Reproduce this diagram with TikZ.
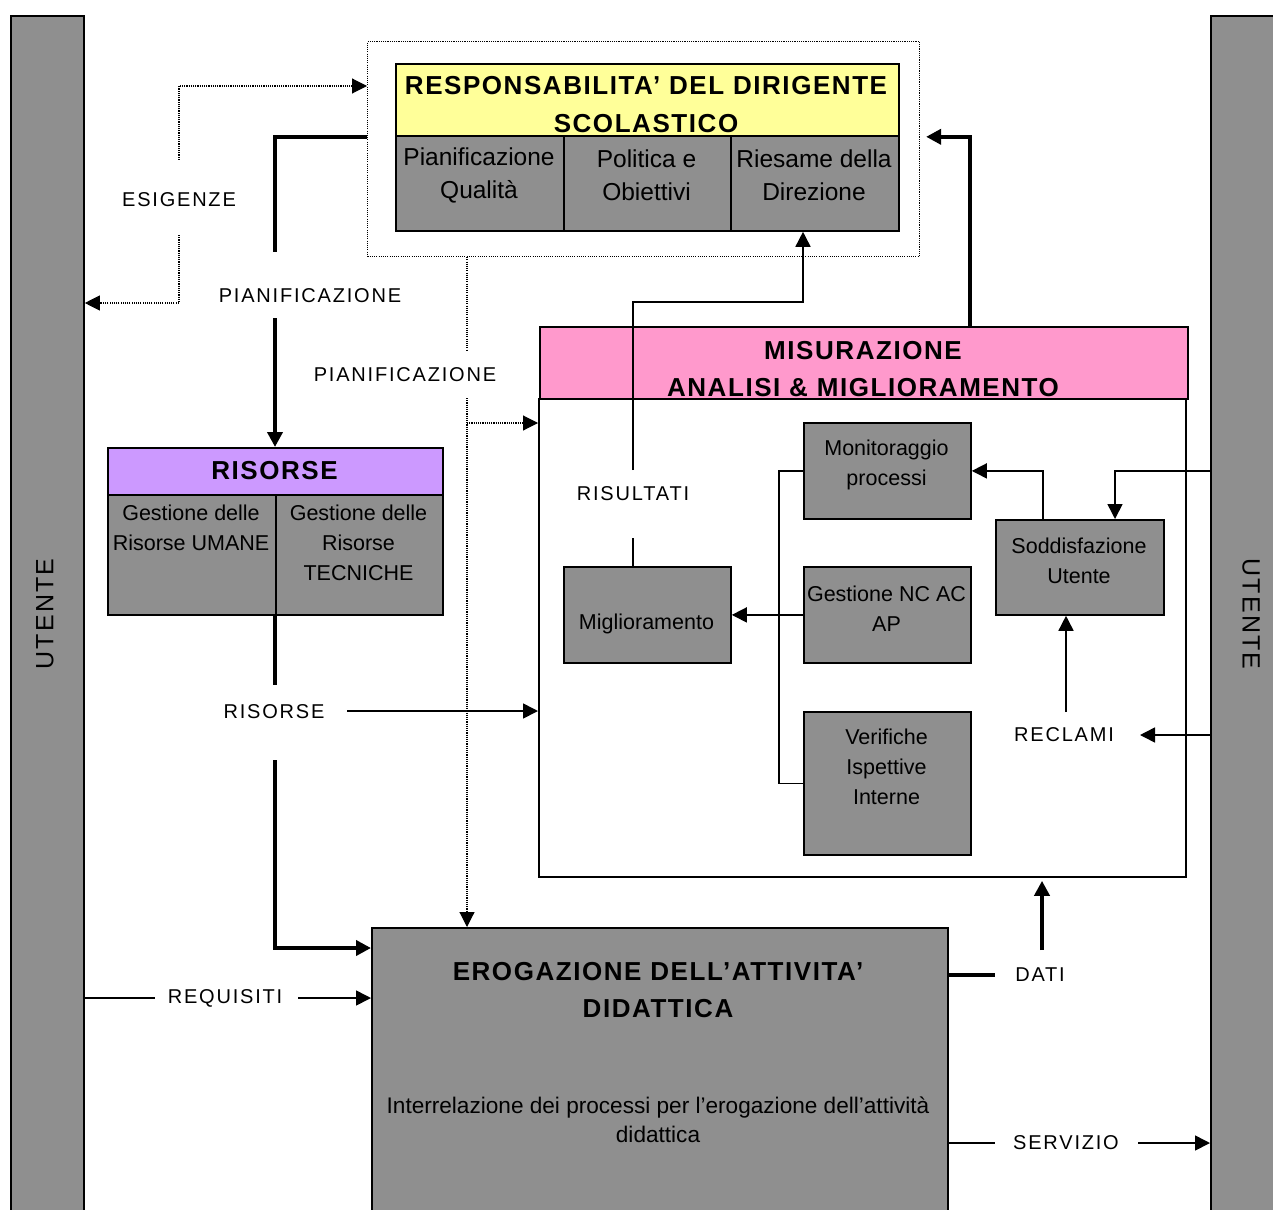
\documentclass[tikz,border=0pt]{standalone}
\usepackage{fontspec}
\setmainfont{Liberation Sans}
\newfontfamily\labfont{Liberation Sans}[LetterSpace=9]
\newfontfamily\hdfont{Liberation Sans}[LetterSpace=6]
\usetikzlibrary{arrows.meta}
\definecolor{bgray}{HTML}{8F8F8F}
\definecolor{hyel}{HTML}{FFFF99}
\definecolor{hpink}{HTML}{FF99CC}
\definecolor{hpurp}{HTML}{CC99FF}
\begin{document}
\begin{tikzpicture}[x=1pt,y=-1pt,
  bx/.style={draw=black,line width=1.8pt,inner sep=0pt,anchor=north west},
  gbx/.style={bx,fill=bgray},
  arr/.style={-{Triangle[length=15pt,width=15pt]}},
  tln/.style={line width=1.6pt},
  thk/.style={line width=4.5pt},
  dotl/.style={line width=1.1pt,dash pattern=on 1.1pt off 1.1pt},
  lbl/.style={font=\labfont\fontsize{20pt}{24pt}\selectfont,inner sep=0pt},
  hd/.style={font=\hdfont\bfseries\fontsize{26pt}{37pt}\selectfont,align=center,inner sep=0pt},
  bt/.style={font=\fontsize{21.5pt}{30pt}\selectfont,align=center,inner sep=0pt},
  tt/.style={font=\fontsize{24.5pt}{33pt}\selectfont,align=center,inner sep=0pt},
  ut/.style={font=\labfont\fontsize{25pt}{30pt}\selectfont,inner sep=0pt}
]
\useasboundingbox (0,0) rectangle (1273,1209);
\clip (0,0) rectangle (1273,1209);

% helper levels
\coordinate (y86) at (0,86);
\coordinate (y303) at (0,303);
\coordinate (y423) at (0,423);
\coordinate (y735) at (0,735);
\coordinate (y948) at (0,948);
\coordinate (y975) at (0,975);
\coordinate (y998) at (0,998);
\coordinate (y1143) at (0,1143);

% user bars
\node[gbx,minimum width=73pt,minimum height=1260pt] (utL) at (10,15) {};
\node[gbx,minimum width=90pt,minimum height=1260pt] (utR) at (1210,15) {};
\node[ut,rotate=90] (utLt) at (45,614) {UTENTE};
\node[ut,rotate=-90] (utRt) at (1251,614) {UTENTE};

% top block
\node[draw,dotl,inner sep=0pt,anchor=north west,minimum width=552pt,minimum height=215pt] (dbox) at (367,41) {};
\node[bx,fill=hyel,minimum width=503pt,minimum height=72pt] (hdr) at (395,63) {};
\node[hd] (hdrt1) at (646,86) {RESPONSABILITA’ DEL DIRIGENTE};
\node[hd] (hdrt2) at (646,124) {SCOLASTICO};
\node[gbx,minimum width=168pt,minimum height=95pt] (pq) at (395,135) {};
\node[gbx,minimum width=167pt,minimum height=95pt] (po) at (563,135) {};
\node[gbx,minimum width=168pt,minimum height=95pt] (pr) at (730,135) {};
\node[tt] (pqt) at (479,175) {Pianificazione\\Qualità};
\node[tt] (pot) at (646.5,175) {Politica e\\Obiettivi};
\node[tt] (prt) at (814,175) {Riesame della\\Direzione};

% risorse block
\node[bx,fill=hpurp,minimum width=335pt,minimum height=47pt] (rh) at (107,447) {};
\node[hd] (rht) at (274.5,471) {RISORSE};
\node[gbx,minimum width=168pt,minimum height=120pt] (rcl) at (107,494) {};
\node[gbx,minimum width=167pt,minimum height=120pt] (rcr) at (275,494) {};
\node[bt] (rclt) at (191,528) {Gestione delle\\Risorse UMANE};
\node[bt] (rcrt) at (358.5,543) {Gestione delle\\Risorse\\TECNICHE};

% misurazione block
\node[bx,fill=hpink,minimum width=648pt,minimum height=72pt] (mh) at (539,326) {};
\node[bx,fill=white,minimum width=647pt,minimum height=478pt] (mb) at (538,398) {};
\node[hd] (mht) at (863,369) {MISURAZIONE\\ANALISI \& MIGLIORAMENTO};
\node[gbx,minimum width=167pt,minimum height=96pt] (mon) at (803,422) {};
\node[bt] (mont) at (886.5,465) {Monitoraggio\\processi};
\node[gbx,minimum width=168pt,minimum height=95pt] (sod) at (995,519) {};
\node[bt] (sodt) at (1079,561) {Soddisfazione\\Utente};
\node[gbx,minimum width=167pt,minimum height=96pt] (mig) at (563,566) {};
\node[bt] (migt) at (646.5,624) {Miglioramento};
\node[gbx,minimum width=167pt,minimum height=96pt] (gnc) at (803,566) {};
\node[bt] (gnct) at (886.5,609) {Gestione NC AC\\AP};
\node[gbx,minimum width=167pt,minimum height=143pt] (ver) at (803,711) {};
\node[bt] (vert) at (886.5,767) {Verifiche\\Ispettive\\Interne};

% erogazione block
\node[gbx,minimum width=576pt,minimum height=320pt] (ero) at (371,927) {};
\node[hd] (erot) at (658,990) {EROGAZIONE DELL’ATTIVITA’\\DIDATTICA};
\node[font=\fontsize{22.6pt}{29pt}\selectfont,align=center,inner sep=0pt] (eros) at (658,1120) {Interrelazione dei processi per l’erogazione dell’attività\\didattica};

% labels
\node[lbl] (lesig) at (179,200) {ESIGENZE};
\node[lbl] (lpian1) at (310,296) {PIANIFICAZIONE};
\node[lbl] (lpian2) at (405,375) {PIANIFICAZIONE};
\node[lbl] (lris) at (633,494) {RISULTATI};
\node[lbl] (lrisor) at (274,712) {RISORSE};
\node[lbl] (lrecl) at (1064,735) {RECLAMI};
\node[lbl] (lreq) at (225,998) {REQUISITI};
\node[lbl] (ldati) at (1040,975) {DATI};
\node[lbl] (lserv) at (1066,1143) {SERVIZIO};

% free ends
\coordinate (e1) at (179,160);
\coordinate (e2) at (179,235);
\coordinate (p1) at (275,252);
\coordinate (p2) at (275,318);
\coordinate (p3) at (275,685);
\coordinate (p4) at (275,760);
\coordinate (p5) at (347,711);
\coordinate (q1) at (467,350);
\coordinate (q2) at (467,398);
\coordinate (r1) at (633,538);
\coordinate (r2) at (633,470);
\coordinate (r3) at (803,302);
\coordinate (s1) at (970,0);
\coordinate (t1) at (1043,0);
\coordinate (t2) at (1115,0);
\coordinate (t3) at (779,0);
\coordinate (u1) at (1066,712);
\coordinate (u2) at (1140,735);
\coordinate (v1) at (995,975);
\coordinate (v2) at (1042,950);
\coordinate (w1) at (995,1143);
\coordinate (w2) at (1138,1143);
\coordinate (x1) at (155,998);
\coordinate (x2) at (298,998);

% dotted connectors
\draw[dotl,arr] (e1) |- (dbox.west |- y86);
\draw[dotl,arr] (e2) |- (utL.east |- y303);
\draw[dotl] (dbox.south -| q1) -- (q1);
\draw[dotl,arr] (q2) -- (q2 |- ero.north);
\draw[dotl,arr] (q2 |- y423) -- (mb.west |- y423);

% thick connectors
\draw[thk] (dbox.west |- hdr.south) -| (p1);
\draw[thk,arr] (p2) -- (p2 |- rh.north);
\draw[thk] (p3 |- rcr.south) -- (p3);
\draw[thk,arr] (p4) |- (ero.west |- y948);
\draw[thk,arr,shorten >=6pt] (s1 |- mh.north) |- (dbox.east |- hdr.south);
\draw[thk] (ero.east |- y975) -- (v1);
\draw[thk,arr,shorten >=3pt] (v2) -- (v2 |- mb.south);

% thin connectors
\draw[tln,arr] (p5) -- (mb.west |- p5);
\draw[tln] (r1 |- mig.north) -- (r1);
\draw[tln,arr] (r2) |- (r3) -- (r3 |- pr.south);
\draw[tln,arr] (t1 |- sod.north) |- (mon.east);
\draw[tln,arr] (utR.west |- mon.east) -| (t2 |- sod.north);
\draw[tln] (mon.west) -- (t3 |- mon.west) -- (t3 |- ver.west) -- (ver.west);
\draw[tln,arr] (gnc.west) -- (mig.east);
\draw[tln,arr] (u1) -- (u1 |- sod.south);
\draw[tln,arr] (utR.west |- y735) -- (u2);
\draw[tln] (ero.east |- y1143) -- (w1);
\draw[tln,arr] (w2) -- (utR.west |- w2);
\draw[tln] (utL.east |- y998) -- (x1);
\draw[tln,arr] (x2) -- (ero.west |- x2);
\end{tikzpicture}
\end{document}
